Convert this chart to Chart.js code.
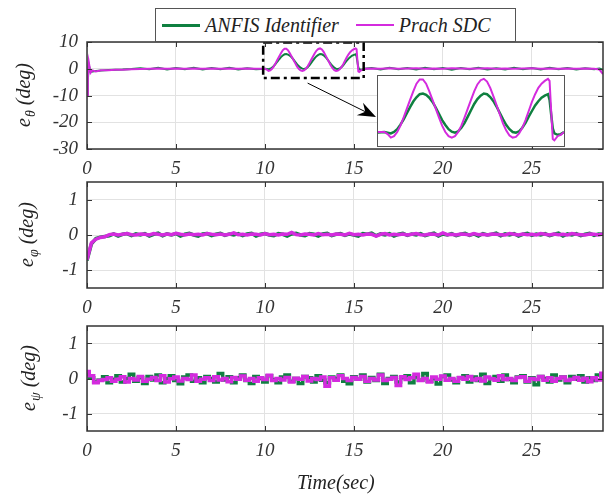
<!DOCTYPE html>
<html lang="en">
<head>
<meta charset="UTF-8">
<title>Tracking errors</title>
<script src="https://cdn.jsdelivr.net/npm/chart.js"></script>
<style>
  body { margin: 0; background: #fff; width: 605px; height: 496px; position: relative; overflow: hidden;
         font-family: "Liberation Serif", "Times New Roman", serif; }
  .panel { position: absolute; left: 0; width: 605px; }
  #legend { position: absolute; left: 155px; top: 8px; width: 353px; height: 32px; border: 1px solid #555;
            background: #fff; display: flex; align-items: center; padding-left: 6px; box-sizing: content-box; z-index: 5; }
  #legend .item { display: flex; align-items: center; margin-right: 17px; font-style: italic; font-size: 20px; color: #222; }
  #legend .swatch { display: inline-block; width: 38px; margin-right: 5px; }
  #inset { position: absolute; left: 377px; top: 75px; width: 186px; height: 70px; border: 1px solid #555; background: #fff; z-index: 4; }
  #xlabel { position: absolute; left: 297px; top: 470px; font-style: italic; font-size: 20px; line-height: 24px; color: #222; }
</style>
</head>
<body>
<div id="legend"></div>
<div class="panel" style="top:30px;height:150px"><canvas id="thetaChart" width="605" height="150"></canvas></div>
<div class="panel" style="top:178px;height:140px"><canvas id="phiChart" width="605" height="140"></canvas></div>
<div class="panel" style="top:322px;height:174px"><canvas id="psiChart" width="605" height="174"></canvas></div>
<div id="inset"><canvas id="insetChart" width="186" height="70"></canvas></div>
<div id="xlabel">Time(sec)</div>

<script>
// series names / colours
const seriesNames = ['ANFIS Identifier', 'Prach SDC'];
const seriesColors = ['#0f8040', '#d42bde'];

// ticks
const timeTicks = [0, 5, 10, 15, 20, 25];
const thetaTicks = [-30, -20, -10, 0, 10];
const angleTicks = [-1, 0, 1];

// theta error (deg), irregular sampling so the bumps keep their shape
const thetaTime = [0, 0.05, 0.1, 0.15, 0.2, 0.3, 0.5, 0.8, 1.2, 1.6, 2, 2.5, 3, 3.5, 4, 4.5, 5, 5.5, 6, 6.5, 7, 7.5, 8, 8.5, 9, 9.5, 10,
  10.1, 10.2, 10.3, 10.4, 10.5, 10.6, 10.7, 10.8, 10.9, 11, 11.1, 11.2, 11.3, 11.4, 11.5, 11.6, 11.7, 11.8, 11.9, 12,
  12.1, 12.2, 12.3, 12.4, 12.5, 12.6, 12.7, 12.8, 12.9, 13, 13.1, 13.2, 13.3, 13.4, 13.5, 13.6, 13.7, 13.8, 13.9, 14,
  14.1, 14.2, 14.3, 14.4, 14.5, 14.6, 14.7, 14.8, 14.9, 15, 15.1, 15.15, 15.2, 15.25, 15.3, 15.4, 15.5, 15.6,
  16, 16.5, 17, 17.5, 18, 18.5, 19, 19.5, 20, 20.5, 21, 21.5, 22, 22.5, 23, 23.5, 24, 24.5, 25, 25.5, 26, 26.5, 27, 27.5, 28, 28.5, 28.8, 29];
const thetaAnfis = [-10, -4, 1.5, 0, -1.2, -1.0, -0.8, -0.7, -0.5, -0.4, -0.3, -0.1, 0.2, -0.2, 0.4, -0.3, 0.3, -0.2, 0.4, -0.3, 0.3, -0.2, 0.4, -0.3, 0.2, -0.2, 0.0,
  -0.1, -0.2, 0.0, 0.4, 1.05, 1.8, 2.7, 3.55, 4.35, 4.95, 5.4, 5.5, 5.3, 4.9, 4.3, 3.5, 2.6, 1.7, 1.0, 0.4,
  0.05, -0.1, 0.1, 0.6, 1.3, 2.2, 3.1, 4.0, 4.7, 5.2, 5.5, 5.4, 5.0, 4.4, 3.6, 2.7, 1.8, 1.0, 0.4, 0.0,
  -0.1, 0.1, 0.6, 1.3, 2.2, 3.0, 3.8, 4.4, 4.9, 5.2, 5.4, 4.6, 2.5, 0.5, -0.2, -0.4, -0.3, 0.0,
  0.3, -0.3, 0.4, -0.2, 0.3, -0.3, 0.4, -0.2, 0.3, -0.4, 0.3, -0.2, 0.4, -0.3, 0.2, -0.3, 0.4, -0.2, 0.3, -0.3, 0.4, -0.2, 0.3, -0.3, 0.2, -0.2, 0.1, -0.4];
const thetaSdc = [-10, -3, 2.5, 0.5, -1.5, -0.6, -1.0, -0.6, -0.6, -0.4, -0.35, -0.2, -0.1, 0, 0.1, 0, 0.1, 0, 0.1, 0, 0.1, 0, 0.1, 0, 0.1, 0, 0.0,
  -0.3, -0.8, -0.6, 0.0, 0.9, 2.1, 3.35, 4.6, 5.8, 6.9, 7.5, 7.5, 6.9, 5.8, 4.6, 3.35, 2.1, 0.9, 0.0, -0.6,
  -0.8, -0.6, 0.0, 0.9, 2.1, 3.35, 4.6, 5.8, 6.8, 7.4, 7.6, 7.2, 6.3, 5.1, 3.8, 2.5, 1.2, 0.2, -0.5, -0.8,
  -0.7, -0.2, 0.6, 1.7, 3.0, 4.3, 5.4, 6.3, 6.9, 7.3, 7.6, 7.3, 3.0, -1.0, -1.2, -0.6, -0.4, 0.0,
  0.1, 0, 0.2, 0, 0.1, 0.2, 0, 0.1, 0, 0.2, 0.1, 0, 0.1, 0.2, 0, 0.1, 0, 0.1, 0.2, 0, 0.1, 0, 0.1, 0, 0.1, 0, -0.3, -2.0];

// phi and psi errors (deg), one sample every 0.25 s
const sampleStep = 0.25;
const phiAnfis = [-0.72, -0.25, -0.1, -0.06, -0.04,
  -0.02, 0.03, -0.03, 0.02, 0.04, -0.02, 0.03, 0.0, 0.04, -0.03,
  0.02, 0.05, -0.02, 0.03, 0.0, 0.04, -0.03, 0.02, 0.05, 0.0,
  -0.03, 0.03, 0.04, -0.02, 0.02, 0.05, -0.01, 0.03, 0.0, 0.04,
  -0.02, 0.03, 0.05, -0.03, 0.02, 0.04, 0.0, -0.02, 0.04, 0.02,
  -0.03, 0.03, 0.05, 0.0, -0.02, 0.04, 0.02, -0.03, 0.03, 0.05,
  -0.02, 0.02, 0.04, -0.01, 0.03, 0.0, -0.03, 0.04, 0.02, 0.05,
  -0.02, 0.03, 0.0, 0.04, -0.03, 0.02, 0.05, -0.01, 0.03, 0.0,
  0.04, -0.02, 0.02, 0.05, -0.03, 0.03, 0.0, 0.04, -0.02, 0.02,
  0.05, -0.01, 0.03, -0.03, 0.04, 0.0, 0.02, 0.05, -0.02, 0.03,
  0.0, 0.04, -0.03, 0.02, 0.05, -0.01, 0.03, 0.0, 0.04, -0.02,
  0.02, 0.05, -0.03, 0.03, 0.0, 0.04, -0.02, 0.02, 0.05, -0.01,
  0.03, 0.02];
const phiSdc = [-0.7, -0.22, -0.12, -0.07, -0.05,
  0.01, 0.03, 0.0, 0.02, 0.04, 0.01, 0.0, 0.03, 0.02, 0.0,
  0.04, 0.02, 0.0, 0.03, 0.01, 0.05, 0.02, 0.0, 0.03, 0.01,
  0.02, 0.0, 0.04, 0.02, 0.01, 0.03, 0.0, 0.02, 0.06, 0.01,
  0.02, 0.0, 0.03, 0.02, 0.0, 0.04, 0.01, 0.02, 0.0, 0.03,
  0.02, 0.07, 0.01, 0.0, 0.03, 0.02, 0.0, 0.04, 0.01, 0.02,
  0.0, 0.03, 0.02, 0.0, 0.05, 0.01, 0.02, 0.0, 0.03, 0.02,
  -0.03, 0.02, 0.04, 0.0, 0.02, 0.01, 0.03, 0.0, 0.02, 0.04,
  0.01, 0.0, 0.03, 0.02, 0.0, 0.06, 0.01, 0.02, 0.0, 0.03,
  0.02, 0.0, 0.04, 0.01, 0.02, 0.0, 0.03, 0.02, 0.01, 0.0,
  0.04, 0.02, 0.0, 0.03, 0.01, 0.02, 0.0, 0.04, 0.02, 0.0,
  0.03, 0.01, 0.02, 0.0, 0.04, 0.02, 0.01, 0.0, 0.03, 0.02,
  0.0, 0.03];
const psiAnfis = [0.12, 0.02, -0.1, -0.05, 0.05, -0.12, -0.02, 0.08, -0.1, 0.0,
  0.12, -0.08, 0.02, -0.14, 0.06, -0.04, 0.1, -0.12, 0.0, 0.08,
  -0.06, -0.15, 0.04, 0.1, -0.08, 0.02, -0.12, 0.06, 0.0, -0.1,
  0.14, -0.04, 0.05, -0.12, 0.02, 0.1, -0.06, -0.14, 0.06, 0.0,
  -0.1, 0.08, -0.03, -0.12, 0.04, 0.1, -0.08, 0.0, -0.14, 0.06,
  0.02, -0.1, 0.08, -0.05, -0.12, 0.04, 0.0, 0.1, -0.08, -0.15,
  0.05, -0.02, 0.1, -0.1, 0.03, -0.06, 0.12, -0.14, 0.0, 0.06,
  -0.1, 0.02, 0.08, -0.12, 0.04, -0.05, 0.14, -0.08, 0.0, -0.16,
  0.06, 0.1, -0.04, -0.12, 0.02, 0.08, -0.1, 0.04, -0.06, 0.12,
  -0.14, 0.0, 0.06, -0.08, 0.1, -0.03, -0.12, 0.04, 0.08, -0.1,
  0.02, -0.18, 0.06, 0.0, -0.1, 0.1, -0.04, 0.04, -0.12, 0.06,
  -0.02, 0.08, -0.1, 0.02, -0.06, 0.1, 0.04];
const psiSdc = [0.2, 0.08, -0.12, -0.06, -0.03, 0.02, -0.08, -0.02, 0.05, -0.1,
  0.0, -0.04, 0.06, -0.08, -0.02, 0.03, -0.06, 0.08, -0.1, -0.01,
  0.04, -0.07, 0.0, -0.03, 0.1, -0.08, -0.02, 0.02, -0.06, 0.05,
  -0.04, 0.0, -0.09, 0.03, -0.02, 0.07, -0.05, 0.0, -0.08, 0.02,
  -0.03, 0.09, -0.06, 0.0, -0.04, 0.03, -0.1, 0.01, -0.02, 0.06,
  -0.07, 0.0, -0.03, 0.04, -0.22, 0.02, -0.05, 0.08, 0.0, -0.06,
  0.03, -0.02, 0.06, -0.08, 0.0, -0.04, 0.1, -0.06, -0.02, 0.03,
  -0.2, 0.05, -0.03, 0.02, 0.12, -0.06, 0.0, -0.1, 0.04, -0.02,
  0.07, -0.05, 0.0, -0.08, 0.03, -0.02, 0.06, -0.04, 0.0, -0.07,
  0.04, -0.01, -0.05, 0.08, -0.03, 0.0, -0.06, 0.03, 0.05, -0.08,
  0.0, -0.03, 0.06, -0.05, 0.02, -0.08, 0.0, 0.04, -0.06, -0.02,
  0.03, -0.05, 0.01, -0.09, 0.02, -0.04, 0.15];

// zoomed window shown in the inset (data units)
const zoomWindow = { xMin: 9.9, xMax: 15.55, yMin: -3.5, yMax: 9.8 };

// ---- legend
const legendEl = document.getElementById('legend');
seriesNames.forEach((name, i) => {
  const item = document.createElement('span');
  item.className = 'item';
  const sw = document.createElement('span');
  sw.className = 'swatch';
  sw.style.height = i === 0 ? '3px' : '2px';
  sw.style.background = seriesColors[i];
  item.appendChild(sw);
  item.appendChild(document.createTextNode(name));
  legendEl.appendChild(item);
});

const serif = '"Liberation Serif", "Times New Roman", serif';
const tickFont = { family: serif, size: 19, style: 'italic' };

function pairs(times, values) {
  return values.map((v, i) => ({ x: times[i], y: v }));
}

// box, inward ticks and the y label e_sub (deg)
const frame = {
  id: 'frame',
  afterDraw(chart, args, opts) {
    const { ctx, chartArea: a, scales: { x, y } } = chart;
    ctx.save();
    ctx.strokeStyle = '#333';
    ctx.lineWidth = 1;
    ctx.beginPath();
    x.ticks.forEach(t => {
      const px = Math.round(x.getPixelForValue(t.value)) + 0.5;
      ctx.moveTo(px, a.bottom); ctx.lineTo(px, a.bottom - 5);
      ctx.moveTo(px, a.top); ctx.lineTo(px, a.top + 5);
    });
    y.ticks.forEach(t => {
      const py = Math.round(y.getPixelForValue(t.value)) + 0.5;
      ctx.moveTo(a.left, py); ctx.lineTo(a.left + 5, py);
      ctx.moveTo(a.right, py); ctx.lineTo(a.right - 5, py);
    });
    ctx.stroke();
    ctx.lineWidth = 1.5;
    ctx.strokeRect(a.left, a.top, a.right - a.left, a.bottom - a.top);

    ctx.fillStyle = '#222';
    ctx.translate(opts.labelX, (a.top + a.bottom) / 2);
    ctx.rotate(-Math.PI / 2);
    ctx.textBaseline = 'alphabetic';
    const big = 'italic 20px ' + serif, small = 'italic 14px ' + serif;
    ctx.font = big; const w1 = ctx.measureText('e').width;
    ctx.font = small; const w2 = ctx.measureText(opts.sub).width;
    ctx.font = big; const w3 = ctx.measureText(' (deg)').width;
    let sx = -(w1 + w2 + w3) / 2;
    ctx.fillText('e', sx, 5);
    ctx.font = small; ctx.fillText(opts.sub, sx + w1 + 1, 10);
    ctx.font = big; ctx.fillText(' (deg)', sx + w1 + w2 + 1, 5);
    ctx.restore();
  }
};

// dash-dot zoom box and the arrow to the inset
const callout = {
  id: 'callout',
  afterDatasetsDraw(chart) {
    const { ctx, scales: { x, y } } = chart;
    const cv = chart.canvas.getBoundingClientRect();
    const ins = document.getElementById('inset').getBoundingClientRect();
    const x0 = x.getPixelForValue(zoomWindow.xMin), x1 = x.getPixelForValue(zoomWindow.xMax);
    const y0 = y.getPixelForValue(zoomWindow.yMax), y1 = y.getPixelForValue(zoomWindow.yMin);
    ctx.save();
    ctx.strokeStyle = '#000';
    ctx.lineWidth = 2.5;
    ctx.setLineDash([9, 4, 3, 4]);
    ctx.strokeRect(x0, y0, x1 - x0, y1 - y0);
    ctx.setLineDash([]);
    // arrow
    const sx = x.getPixelForValue(12.4), sy = y1 + 5;
    const ex = ins.left - cv.left - 1, ey = ins.top - cv.top + 42;
    const dx = ex - sx, dy = ey - sy, len = Math.hypot(dx, dy);
    const ux = dx / len, uy = dy / len, nx = -uy, ny = ux;
    ctx.lineWidth = 1;
    ctx.beginPath();
    ctx.moveTo(sx, sy); ctx.lineTo(ex - ux * 10, ey - uy * 10);
    ctx.stroke();
    ctx.fillStyle = '#000';
    ctx.beginPath();
    ctx.moveTo(ex, ey);
    ctx.lineTo(ex - ux * 18 + nx * 7, ey - uy * 18 + ny * 7);
    ctx.lineTo(ex - ux * 12, ey - uy * 12);
    ctx.lineTo(ex - ux * 18 - nx * 7, ey - uy * 18 - ny * 7);
    ctx.closePath();
    ctx.fill();
    ctx.restore();
  }
};

function panel(id, p) {
  return new Chart(document.getElementById(id), {
    type: 'line',
    data: {
      datasets: [
        { label: seriesNames[1], data: p.sdc, borderColor: seriesColors[1], borderWidth: p.lw, pointRadius: 0, tension: 0, stepped: p.stepped },
        { label: seriesNames[0], data: p.anfis, borderColor: seriesColors[0], borderWidth: p.lw, pointRadius: 0, tension: 0, stepped: p.stepped }
      ]
    },
    options: {
      responsive: false,
      animation: false,
      events: [],
      layout: { padding: { top: p.padTop, right: 2, left: 0, bottom: 0 } },
      plugins: { legend: { display: false }, tooltip: { enabled: false }, frame: { sub: p.sub, labelX: p.labelX } },
      scales: {
        x: {
          type: 'linear', min: 0, max: 29,
          afterBuildTicks: s => { s.ticks = timeTicks.map(v => ({ value: v })); },
          afterFit: s => { s.height = p.xHeight; s.paddingLeft = 0; s.paddingRight = 0; },
          grid: { color: '#e2e2e2', drawTicks: false },
          border: { display: false },
          ticks: { font: tickFont, color: '#333', padding: 9, maxRotation: 0 }
        },
        y: {
          min: p.yMin, max: p.yMax,
          afterBuildTicks: s => { s.ticks = p.yTicks.map(v => ({ value: v })); },
          afterFit: s => { s.width = 87; s.paddingTop = 0; s.paddingBottom = 0; },
          grid: { color: '#e2e2e2', drawTicks: false },
          border: { display: false },
          ticks: { font: tickFont, color: '#333', padding: 9 }
        }
      }
    },
    plugins: p.extra ? [frame, p.extra] : [frame]
  });
}

const phiTime = phiAnfis.map((_, i) => i * sampleStep);
const psiTime = psiAnfis.map((_, i) => i * sampleStep);

panel('thetaChart', {
  anfis: pairs(thetaTime, thetaAnfis), sdc: pairs(thetaTime, thetaSdc), lw: 2, stepped: false,
  yMin: -30, yMax: 10, yTicks: thetaTicks, sub: '\u03b8', labelX: 25,
  padTop: 12, xHeight: 31, extra: callout
});
panel('phiChart', {
  anfis: pairs(phiTime, phiAnfis), sdc: pairs(phiTime, phiSdc), lw: 3.5, stepped: false,
  yMin: -1.5, yMax: 1.5, yTicks: angleTicks, sub: '\u03c6', labelX: 28,
  padTop: 4, xHeight: 30
});
panel('psiChart', {
  anfis: pairs(psiTime, psiAnfis), sdc: pairs(psiTime, psiSdc), lw: 3.5, stepped: 'middle',
  yMin: -1.5, yMax: 1.5, yTicks: angleTicks, sub: '\u03c8', labelX: 30,
  padTop: 4, xHeight: 65
});

// inset: magnified theta around the bumps
new Chart(document.getElementById('insetChart'), {
  type: 'line',
  data: {
    datasets: [
      { data: pairs(thetaTime, thetaSdc), borderColor: seriesColors[1], borderWidth: 2, pointRadius: 0, tension: 0 },
      { data: pairs(thetaTime, thetaAnfis), borderColor: seriesColors[0], borderWidth: 2.5, pointRadius: 0, tension: 0 }
    ]
  },
  options: {
    responsive: false, animation: false, events: [],
    layout: { padding: 0 },
    plugins: { legend: { display: false }, tooltip: { enabled: false } },
    scales: {
      x: { type: 'linear', min: 9.8, max: 15.6, display: false },
      y: { min: -2, max: 8, display: false }
    }
  }
});
</script>
</body>
</html>
